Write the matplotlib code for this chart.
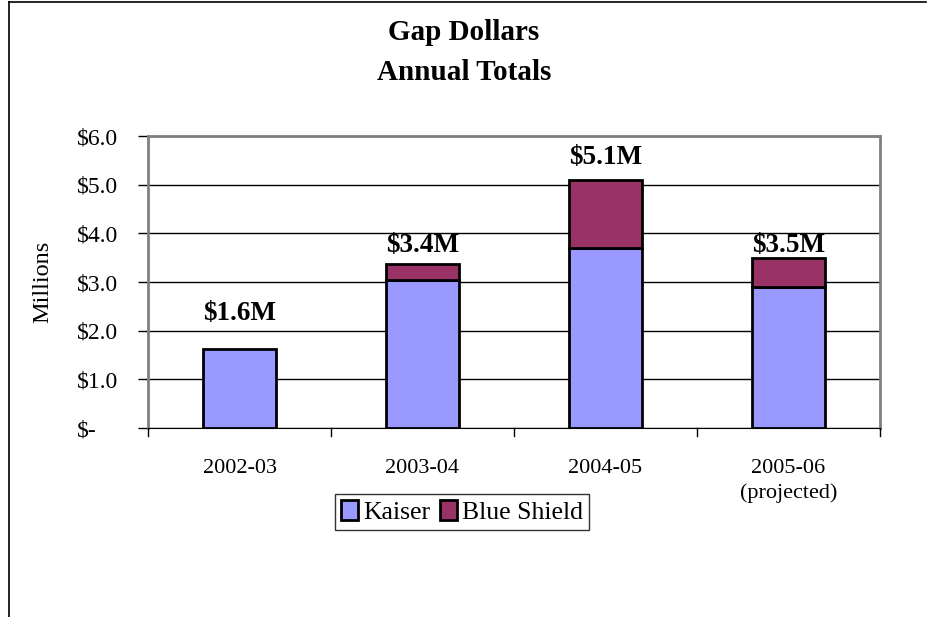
import matplotlib
matplotlib.use('Agg')
import matplotlib.pyplot as plt
from matplotlib.patches import Patch
from matplotlib.lines import Line2D
import numpy as np

plt.rcParams['font.family'] = ['Liberation Serif', 'DejaVu Serif']

years = ['2002-03', '2003-04', '2004-05', '2005-06\n(projected)']
kaiser = [1.62, 3.05, 3.69, 2.90]
blue_shield = [0.0, 0.31, 1.40, 0.60]
total_labels = ['$1.6M', '$3.4M', '$5.1M', '$3.5M']
label_y = [2.36, 3.76, 5.56, 3.76]  # hand placed text boxes, as in the original

KAISER_COLOR = '#9999FF'
BS_COLOR = '#993366'

fig = plt.figure(figsize=(9.33, 6.17), dpi=100)
ax = fig.add_axes([148 / 933, 1 - 428 / 617, (880 - 148) / 933, (428 - 136) / 617])

x = np.arange(len(years))
w = 0.40
ax.bar(x, kaiser, w, color=KAISER_COLOR, edgecolor='black', linewidth=2, zorder=3)
bs_x = [xi for xi, b in zip(x, blue_shield) if b > 0]
bs_b = [k for k, b in zip(kaiser, blue_shield) if b > 0]
bs_h = [b for b in blue_shield if b > 0]
ax.bar(bs_x, bs_h, w, bottom=bs_b, color=BS_COLOR, edgecolor='black', linewidth=2, zorder=3)

for xi, lab, ly in zip(x, total_labels, label_y):
    ax.text(xi, ly, lab, ha='center', va='center', fontsize=19.5, fontweight='bold')

ax.set_xlim(-0.5, len(years) - 0.5)
ax.set_ylim(0, 6)
ax.set_yticks(np.arange(0, 7, 1))
# accounting style: "$" flush left, like the Excel original
ax.set_yticklabels(['$-'] + [f'${v:.1f}' for v in range(1, 7)], fontsize=17, ha='left')
ax.tick_params(axis='y', direction='out', length=7, width=1, pad=44)
ax.yaxis.grid(True, color='black', linewidth=1, zorder=0)
ax.set_axisbelow(True)

ax.set_xticks(x)
ax.set_xticklabels(years, fontsize=16, linespacing=1.4)
ax.tick_params(axis='x', length=0, pad=22)
# category boundary ticks below the axis
for b in np.arange(-0.5, len(years), 1):
    ax.plot([b, b], [0, -0.17], color='black', linewidth=1, clip_on=False, zorder=4)

for s in ['top', 'right', 'left']:
    ax.spines[s].set_color('#808080')
    ax.spines[s].set_linewidth(2)
ax.spines['bottom'].set_color('black')

ax.set_ylabel('Millions', fontsize=17.5, va='center')
ax.yaxis.set_label_coords((43 - 148) / (880 - 148), 0.5)

fig.text(464 / 933, 1 - 32 / 617, 'Gap Dollars', ha='center', va='center',
         fontsize=21, fontweight='bold')
fig.text(464 / 933, 1 - 73 / 617, 'Annual Totals', ha='center', va='center',
         fontsize=21, fontweight='bold')

handles = [Patch(facecolor=KAISER_COLOR, edgecolor='black', linewidth=2, label='Kaiser'),
           Patch(facecolor=BS_COLOR, edgecolor='black', linewidth=2, label='Blue Shield')]
leg = fig.legend(handles=handles, loc='center', bbox_to_anchor=(462 / 933, 1 - 512 / 617),
                 ncol=2, fontsize=18.5, frameon=True, fancybox=False, edgecolor='black',
                 handlelength=0.65, handleheight=0.8, handletextpad=0.2, columnspacing=0.4,
                 borderpad=0.25, borderaxespad=0)
leg.get_frame().set_linewidth(1)

# outer chart frame (left and top edges visible)
fig.add_artist(Line2D([9 / 933, 9 / 933], [0, 1 - 2 / 617], color='black', linewidth=1.2,
                      transform=fig.transFigure))
fig.add_artist(Line2D([9 / 933, 926 / 933], [1 - 2 / 617, 1 - 2 / 617], color='black',
                      linewidth=1.2, transform=fig.transFigure))

fig.savefig('out.png', dpi=100, facecolor='white')
